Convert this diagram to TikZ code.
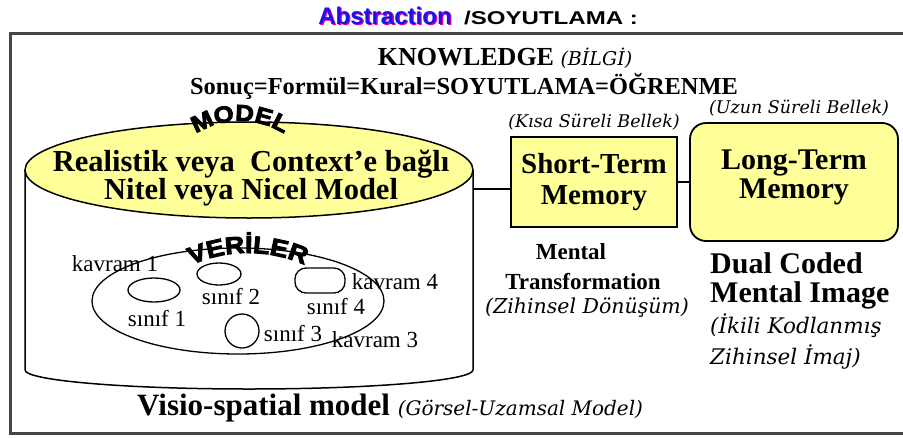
\documentclass[tikz,border=0pt]{standalone}
\usepackage{fontspec}
\usepackage{graphicx}
\usetikzlibrary{decorations.text}
\setmainfont{Liberation Serif}
\newfontfamily\djv{DejaVu Serif}
\newfontfamily\titlefont{Liberation Sans}
\newfontfamily\wordart{Liberation Sans}[BoldFeatures={FakeBold=4,FakeStretch=1.12}]
\newcommand\fsz[1]{\fontsize{#1}{#1}\selectfont}
\definecolor{memyellow}{RGB}{255,255,153}
\definecolor{framegray}{RGB}{70,70,70}
\definecolor{titleblue}{RGB}{20,20,240}
\begin{document}
\begin{tikzpicture}[x=1pt,y=-1pt,
  lbl/.style={inner sep=0pt},
  itl/.style={inner sep=0pt,font=\djv\itshape\fsz{20}},
  membox/.style={draw=black,line width=1.8pt,fill=memyellow},
  shp/.style={line width=1.3pt},
  bsf/.style={inner sep=0pt,font=\bfseries\fsz{#1}},
  rsf/.style={inner sep=0pt,font=\fsz{#1}}]
\useasboundingbox (0,0) rectangle (903,437);
\fill[white] (0,0) rectangle (903,437);
% frame
\draw[framegray,line width=3pt] (910,33) -- (10,33) -- (10,433) -- (910,433);
% title
\node[lbl,font=\titlefont\bfseries\fsz{24},text=magenta] (absshadow) at (386.3,17.3) {Abstraction};
\node[lbl,font=\titlefont\bfseries\fsz{24},text=titleblue] (abs) at (385,16) {Abstraction};
\node[lbl,anchor=west,font=\titlefont\bfseries\fsz{18.5}] (soy) at (464,18) {\scalebox{1.3}[1]{/SOYUTLAMA :}};
% knowledge
\node[bsf=26,anchor=base] (know) at (505,65) {KNOWLEDGE {\djv\mdseries\itshape\fsz{19}(BİLGİ)}};
\node[bsf=24.4,anchor=base] (form) at (464,94) {Sonuç=Formül=Kural=SOYUTLAMA=ÖĞRENME};
% cylinder
\draw[line width=1.5pt] (25,170) -- (25,370) arc[start angle=180,end angle=0,x radius=224,y radius=19] -- (473,170);
\draw[line width=1.5pt,fill=memyellow] (249,170) ellipse [x radius=224,y radius=48];
\node[lbl,align=center,font=\bfseries\fontsize{30.5}{27}\selectfont] (modeltxt) at (251,178) {Realistik veya~~Context'e bağlı\\Nitel veya Nicel Model};
\path[decorate,decoration={text along path,text align=center,
   text={|\wordart\bfseries\fsz{23}|MODEL}}]
   (240,203) ++(225:82) arc[start angle=225,end angle=315,radius=82];
% memories
\coordinate (cylR) at (473,189);
\node[membox,minimum width=166,minimum height=90] (stm) at (594,182) {};
\node[lbl,align=center,font=\bfseries\fontsize{29}{31}\selectfont] (stmtxt) at (594,182) {Short-Term\\Memory};
\node[membox,rounded corners=16pt,minimum width=208,minimum height=118] (ltm) at (794,182) {};
\node[lbl,align=center,font=\bfseries\fontsize{30}{29}\selectfont] (ltmtxt) at (794,177) {Long-Term\\Memory};
\draw[line width=1.5pt] (cylR) -- (cylR -| stm.west);
\draw[line width=1.5pt] (stm.east) -- (ltm.west);
\node[itl,font=\djv\itshape\fsz{17.5}] (kisa) at (594,122) {(Kısa Süreli Bellek)};
\node[itl,font=\djv\itshape\fsz{17.5}] (uzun) at (799,108) {(Uzun Süreli Bellek)};
% mental transformation
\node[bsf=23] (mental) at (571,252) {Mental};
\node[bsf=23] (transf) at (583,282) {Transformation};
\node[itl,font=\djv\itshape\fsz{20.5}] (zih) at (587,308) {(Zihinsel Dönüşüm)};
% dual coded
\node[bsf=30,anchor=west] (dual) at (710,263) {Dual Coded};
\node[bsf=30,anchor=west] (mimg) at (710,295) {Mental Image};
\node[itl,font=\djv\itshape\fsz{21.5},anchor=west] (ikili) at (710,326) {(İkili Kodlanmış};
\node[itl,font=\djv\itshape\fsz{21.5},anchor=west] (zimaj) at (710,357) {Zihinsel İmaj)};
% veriler
\draw[shp] (238,301) ellipse [x radius=146,y radius=53];
\draw[shp] (154,290) ellipse [x radius=26,y radius=12];
\draw[shp] (219,274) ellipse [x radius=22,y radius=11];
\draw[shp,rounded corners=11pt] (295,268) rectangle (345,293);
\draw[shp] (242,331) circle [radius=17];
\path[decorate,decoration={text along path,text align=center,
   text={|\wordart\bfseries\fsz{24}|VERİLER}}]
   (248,393) ++(230:140) arc[start angle=230,end angle=310,radius=140];
\node[rsf=23] (k1) at (115,264) {kavram 1};
\node[rsf=23] (s1) at (157,319) {sınıf 1};
\node[rsf=23] (s2) at (231,297) {sınıf 2};
\node[rsf=23] (s4) at (336,307) {sınıf 4};
\node[rsf=23] (k4) at (395,282) {kavram 4};
\node[rsf=23] (s3) at (293,334) {sınıf 3};
\node[rsf=23] (k3) at (375,340) {kavram 3};
% bottom label
\node[bsf=31,anchor=base west] (visio) at (137,415) {Visio-spatial model {\djv\mdseries\itshape\fsz{20}(Görsel-Uzamsal Model)}};
\end{tikzpicture}
\end{document}
